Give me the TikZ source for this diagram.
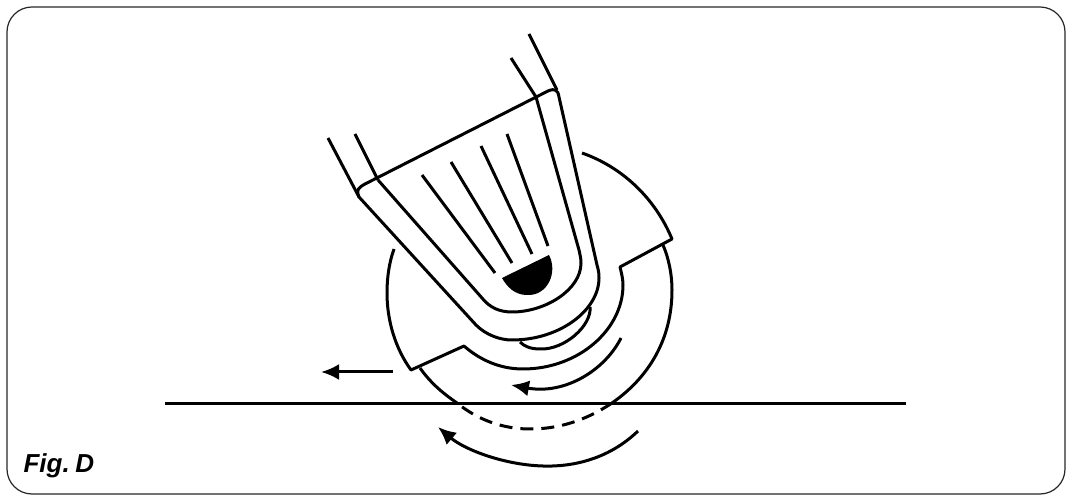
\documentclass[tikz,border=0pt]{standalone}
\usepackage{fontspec}
\setmainfont{Liberation Sans}
\usetikzlibrary{arrows.meta}
\begin{document}
\begin{tikzpicture}[x=1pt, y=-1pt, line width=3pt, line join=round,
        pointer/.style={-{Latex[length=18pt, width=16pt]}},
        frame/.style={line width=1.2pt, draw=black!85, rounded corners=25pt}]
                \useasboundingbox (0,0) rectangle (1074,502);

                % Frame and label
                \draw [frame] (7,7) rectangle (1065,494);
                \node (FigLabel) [anchor=base west, inner sep=0pt, font=\fontsize{26}{26}\selectfont\bfseries\itshape] at (22,472) {Fig.\hspace{0.22em}D};

                % Handle
                \draw (328,138) -- (359,197);
                \draw (355,134) -- (378,180);
                \draw (511,58) -- (536,97);
                \draw (529,34) -- (557,90);

                % Outer shell
                \draw (359,197) .. controls (356,190) and (358,188) .. (365,184) -- (548,91)
                    .. controls (555,88) and (558,90) .. (559,97) -- (597,265)
                    .. controls (599,272) and (599,275) .. (599,278)
                    .. controls (599,310) and (560,340) .. (512,340)
                    .. controls (500,340) and (486,335) .. (476,325) -- cycle;

                % Inner shell
                \draw (378,180) -- (482,298) .. controls (490,308) and (500,312) .. (512,312)
                    .. controls (545,312) and (581,290) .. (581,263)
                    .. controls (581,258) and (580,255) .. (579,250) -- (536,97);

                % Ribs and lamp
                \draw (422,175) -- (495,273);
                \draw (451,162) -- (512,263);
                \draw (481,146) -- (532,254);
                \draw (507,134) -- (548,246);
                \fill (502,278) -- (549,255) .. controls (558,272) and (548,296) .. (527,295)
                    .. controls (515,295) and (507,287) .. (502,278) -- cycle;
                \draw (590,307) .. controls (592,325) and (565,350) .. (540,349)
                    .. controls (530,349) and (524,346) .. (520,342);

                % Guard
                \draw (582,153) .. controls (622,167) and (655,198) .. (672,239) -- (620,267)
                    .. controls (622,275) and (623,280) .. (623,285)
                    .. controls (623,330) and (578,369) .. (523,369)
                    .. controls (500,369) and (480,360) .. (464,346) -- (411,370)
                    .. controls (395,348) and (387,320) .. (387,293)
                    .. controls (387,278) and (389,263) .. (394,249);

                % Wheel
                \draw (663,245) .. controls (669,259) and (672,275) .. (672,290)
                    .. controls (672,340) and (648,378) .. (612,403);
                \draw [dash pattern=on 13pt off 8pt] (612,403) .. controls (585,421) and (558,429) .. (530,429)
                    .. controls (503,429) and (478,420) .. (457,403);
                \draw (457,403) .. controls (441,392) and (430,382) .. (420,368);

                % Work surface
                \draw (165,403.5) -- (906,403.5);

                % Arrows
                \draw [pointer] (393,372) -- (321,372);
                \draw [pointer] (621,338) .. controls (605,370) and (565,395) .. (511,385);
                \draw [pointer] (638,431) .. controls (610,458) and (575,467) .. (543,466)
                    .. controls (505,465) and (465,450) .. (438,427);
            \end{tikzpicture}
\end{document}
